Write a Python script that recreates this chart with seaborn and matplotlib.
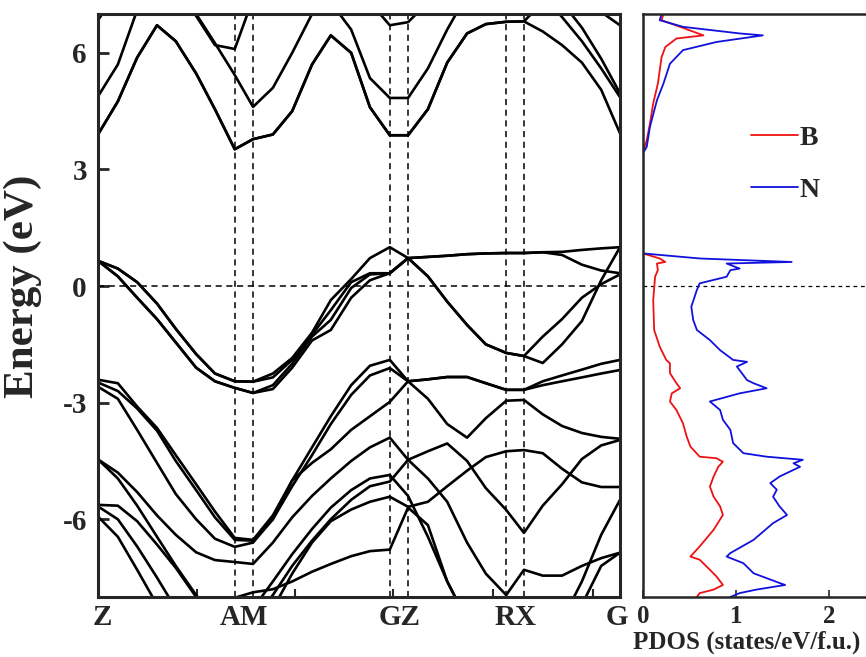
import numpy as np
import pandas as pd
import matplotlib
matplotlib.use("Agg")
import matplotlib.pyplot as plt
import seaborn as sns

# k-path positions (fraction of total path length) and high-symmetry points
K = [0.0, 0.038, 0.075, 0.113, 0.149, 0.188, 0.224, 0.262, 0.297, 0.335, 0.372, 0.41, 0.446, 0.485,
     0.521, 0.559, 0.594, 0.632, 0.669, 0.707, 0.743, 0.782, 0.816, 0.852, 0.889, 0.927, 0.964, 1.0]
KPOINTS = [0.0, 0.262, 0.297, 0.559, 0.594, 0.782, 0.816, 1.0]
KLABEL_POS = [0.008, 0.28, 0.577, 0.799, 0.994]
KLABELS = ["Z", "AM", "GZ", "RX", "G"]
KMINOR = [0.19, 0.377, 0.565, 0.757, 0.948]

# conduction bands (eV)
C1 = [3.9, 4.75, 5.88, 6.71, 6.3, 5.47, 4.55, 3.52, 3.78, 3.9, 4.5, 5.7, 6.45, 6.0, 4.6, 3.88,
      3.88, 4.55, 5.75, 6.5, 6.74, 6.8, 6.81, 6.55, 6.2, 5.75, 5.05, 3.93]
C2 = [4.88, 5.7, 7.1, 7.8, 7.8, 7.0, 6.25, 5.43, 4.61, 5.1, 6.0, 7.0, 7.3, 6.6, 5.35, 4.84,
      4.84, 5.6, 6.6, 7.5, 7.8, 7.8, 7.8, 7.5, 6.92, 6.3, 5.6, 4.86]
C3 = [6.84, 7.6, 7.8, 7.8, 7.7, 6.95, 6.2, 6.1, 7.4, 7.8, 7.8, 7.8, 7.8, 7.8, 7.3, 6.71,
      6.79, 7.3, 7.8, 7.8, 7.8, 7.8, 7.8, 7.8, 7.8, 7.5, 7.05, 6.71]
C4 = [3.9, 4.75, 5.88, 6.71, 6.3, 5.47, 4.55, 3.52, 3.78, 3.9, 4.5, 5.7, 6.45, 6.0, 4.6, 3.88,
      3.88, 4.55, 5.75, 6.5, 6.74, 6.8, 6.81, 7.3, 7.8, 7.8, 7.8, 7.8]
C5 = [7.8, 7.8, 7.8, 7.8, 7.8, 7.8, 7.8, 7.8, 7.8, 7.8, 7.8, 7.8, 7.8, 7.8, 7.8, 7.8,
      7.8, 7.8, 7.8, 7.8, 7.8, 7.8, 7.8, 7.8, 7.3, 6.65, 5.85, 4.96]

# upper valence bands
VA = [0.65, 0.45, 0.1, -0.45, -1.1, -1.75, -2.25, -2.45, -2.46, -2.25, -1.85, -1.2, -0.36, 0.18,
      0.72, 1.0, 0.72, 0.75, 0.78, 0.82, 0.84, 0.85, 0.85, 0.87, 0.88, 0.93, 0.97, 1.0]
VC = [0.65, 0.45, 0.1, -0.45, -1.1, -1.75, -2.25, -2.45, -2.46, -2.35, -1.9, -1.25, -0.62, 0.1,
      0.33, 0.33, 0.72, 0.75, 0.78, 0.82, 0.84, 0.85, 0.85, 0.87, 0.8, 0.55, 0.4, 0.33]
VD = [0.65, 0.25, -0.3, -0.85, -1.45, -2.1, -2.45, -2.62, -2.75, -2.55, -2.0, -1.3, -0.87, -0.05,
      0.3, 0.33, 0.72, 0.25, -0.4, -1.0, -1.5, -1.72, -1.8, -1.98, -1.5, -0.9, 0.15, 1.0]
VB = [0.65, 0.25, -0.3, -0.85, -1.45, -2.1, -2.45, -2.62, -2.75, -2.65, -2.1, -1.4, -1.13, -0.3,
      0.15, 0.33, 0.72, 0.25, -0.4, -1.0, -1.5, -1.72, -1.8, -1.3, -0.85, -0.3, 0.05, 0.3]

# lower valence bands
L1 = [-2.41, -2.5, -3.1, -3.65, -4.35, -5.1, -5.8, -6.48, -6.53, -5.9, -5.0, -4.15, -3.35, -2.55,
      -2.05, -1.9, -2.45, -2.4, -2.34, -2.34, -2.5, -2.67, -2.67, -2.45, -2.3, -2.15, -2.0, -1.9]
L2 = [-2.48, -2.7, -3.15, -3.72, -4.5, -5.25, -5.95, -6.53, -6.55, -6.0, -5.15, -4.35, -3.55, -2.8,
      -2.3, -2.11, -2.45, -2.9, -3.55, -3.9, -3.4, -2.95, -2.93, -3.3, -3.6, -3.78, -3.88, -3.93]
L3 = [-2.59, -2.9, -3.7, -4.55, -5.35, -6.0, -6.5, -6.71, -6.6, -6.0, -5.0, -4.55, -4.2, -3.7,
      -3.35, -2.98, -2.45, -2.4, -2.34, -2.34, -2.5, -2.67, -2.67, -2.55, -2.45, -2.35, -2.25, -2.16]
L4 = [-4.46, -4.8, -5.3, -5.9, -6.4, -6.85, -7.05, -7.1, -7.15, -6.6, -5.95, -5.4, -4.95, -4.5,
      -4.15, -3.9, -4.47, -4.25, -4.05, -4.5, -5.2, -5.76, -6.35, -5.65, -5.1, -4.45, -4.1, -3.96]
L5 = [-4.46, -4.95, -5.65, -6.45, -7.2, -7.95, -8.6, -9.0, -8.3, -7.6, -6.9, -6.25, -5.7, -5.25,
      -4.95, -4.86, -5.4, -6.45, -7.6, -8.6, -9.2, -9.3, -9.3, -9.2, -8.6, -7.6, -6.4, -5.5]
L6 = [-5.63, -5.65, -6.05, -6.65, -7.25, -8.0, -8.7, -9.2, -8.6, -7.95, -7.2, -6.55, -6.0, -5.5,
      -5.15, -5.03, -4.47, -4.95, -5.55, -6.6, -7.4, -7.95, -7.3, -7.45, -7.45, -7.2, -7.0, -6.86]
L7 = [-5.67, -6.0, -6.7, -7.5, -8.3, -9.0, -9.3, -9.3, -9.0, -8.3, -7.4, -6.6, -6.05, -5.75,
      -5.55, -5.42, -5.68, -5.55, -5.15, -4.75, -4.4, -4.25, -4.22, -4.3, -4.7, -5.05, -5.17, -5.17]
L8 = [-5.93, -6.45, -7.3, -8.2, -9.0, -9.4, -8.8, -8.02, -7.88, -7.8, -7.6, -7.35, -7.15, -6.95,
      -6.82, -6.78, -5.7, -6.15, -7.6, -8.6, -9.3, -9.5, -9.5, -9.5, -9.2, -8.2, -7.2, -6.86]

BANDS = {"C1": C1, "C2": C2, "C3": C3, "C4": C4, "C5": C5,
         "VA": VA, "VB": VB, "VC": VC, "VD": VD,
         "L1": L1, "L2": L2, "L3": L3, "L4": L4, "L5": L5, "L6": L6, "L7": L7, "L8": L8}

# projected DOS (states/eV/f.u.)
N_COND_E = [7.0, 6.84, 6.67, 6.5, 6.45, 6.28, 6.07, 5.72, 5.21, 4.78, 4.1, 3.58, 3.42]
N_COND_DOS = [0.2, 0.18, 0.43, 1.04, 1.29, 0.79, 0.43, 0.29, 0.22, 0.15, 0.075, 0.04, 0.0]
N_VAL_E = [0.84, 0.71, 0.62, 0.58, 0.45, 0.41, 0.24, 0.07, -0.1, -0.53, -0.87, -1.13, -1.39, -1.65,
           -1.9, -1.95, -2.07, -2.42, -2.5, -2.63, -2.76, -2.97, -3.19, -3.44, -3.7, -4.04, -4.3,
           -4.39, -4.47, -4.56, -4.65, -4.9, -5.07, -5.24, -5.42, -5.67, -5.89, -6.1, -6.53, -6.87,
           -6.96, -7.13, -7.39, -7.64, -7.69, -7.81, -7.9, -8.0]
N_VAL_DOS = [0.0, 0.61, 1.6, 0.9, 1.04, 0.94, 0.9, 0.61, 0.58, 0.52, 0.54, 0.58, 0.72, 0.83,
             0.97, 1.12, 1.01, 1.12, 1.19, 1.33, 1.04, 0.72, 0.83, 0.86, 0.94, 0.97, 1.08,
             1.33, 1.72, 1.62, 1.69, 1.47, 1.37, 1.44, 1.4, 1.47, 1.55, 1.4, 1.19, 0.94,
             0.9, 1.08, 1.19, 1.47, 1.53, 1.22, 1.04, 0.94]
B_COND_E = [7.0, 6.84, 6.67, 6.45, 6.37, 6.15, 5.89, 5.21, 4.7, 4.18, 3.75, 3.45]
B_COND_DOS = [0.22, 0.2, 0.4, 0.65, 0.36, 0.24, 0.2, 0.16, 0.11, 0.075, 0.04, 0.0]
B_VAL_E = [0.84, 0.71, 0.62, 0.58, 0.41, 0.24, -0.36, -1.13, -1.56, -1.9, -1.99, -2.24, -2.5,
           -2.63, -2.76, -2.97, -3.19, -3.53, -3.87, -4.13, -4.39, -4.43, -4.52, -4.65, -4.9,
           -5.16, -5.42, -5.67, -5.89, -6.27, -6.7, -6.96, -7.04, -7.3, -7.47, -7.69, -7.81,
           -7.9, -8.0]
B_VAL_DOS = [0.0, 0.18, 0.24, 0.15, 0.16, 0.13, 0.11, 0.12, 0.18, 0.25, 0.29, 0.29, 0.36,
             0.4, 0.31, 0.29, 0.36, 0.43, 0.47, 0.51, 0.61, 0.79, 0.86, 0.81, 0.76,
             0.72, 0.76, 0.83, 0.86, 0.76, 0.61, 0.51, 0.61, 0.72, 0.79, 0.86, 0.76,
             0.61, 0.58]

# long-form tables
band_df = pd.concat([pd.DataFrame({"k": K, "E": v, "band": n}) for n, v in BANDS.items()])
dos_df = pd.concat([
    pd.DataFrame({"dos": B_COND_DOS, "E": B_COND_E, "species": "B", "part": "Bc"}),
    pd.DataFrame({"dos": B_VAL_DOS, "E": B_VAL_E, "species": "B", "part": "Bv"}),
    pd.DataFrame({"dos": N_COND_DOS, "E": N_COND_E, "species": "N", "part": "Nc"}),
    pd.DataFrame({"dos": N_VAL_DOS, "E": N_VAL_E, "species": "N", "part": "Nv"}),
])

sns.set_theme(style="ticks")
plt.rcParams["font.family"] = ["Liberation Serif", "DejaVu Serif"]
plt.rcParams["font.weight"] = "bold"
plt.rcParams["axes.labelweight"] = "bold"

fig = plt.figure(figsize=(8.66, 6.57), dpi=100)
W, H = 866, 657
ax = fig.add_axes([98 / W, 1 - 597 / H, 522 / W, 583 / H])
ax2 = fig.add_axes([643 / W, 1 - 597 / H, 223 / W, 583 / H])

# band structure
sns.lineplot(data=band_df, x="k", y="E", units="band", estimator=None, sort=False,
             color="black", lw=1.9, ax=ax, legend=False)
for kp in KPOINTS[1:-1]:
    ax.axvline(kp, color="black", ls=(0, (4, 3)), lw=1.1, zorder=1)
ax.axhline(0, color="black", ls=(0, (4, 3)), lw=1.1, zorder=1)
ax.set_xlim(0, 1)
ax.set_ylim(-8, 7)
ax.set_yticks([-6, -3, 0, 3, 6])
ax.set_yticklabels(["-6", "-3", "0", "3", "6"], fontsize=21, fontweight="bold")
ax.set_xticks(KLABEL_POS)
ax.set_xticklabels(KLABELS, fontsize=21, fontweight="bold")
ax.set_xticks(KMINOR, minor=True)
ax.tick_params(axis="x", which="major", length=0, pad=5)
ax.tick_params(axis="x", which="minor", direction="in", length=6, width=1.5)
ax.tick_params(axis="y", direction="in", length=8, width=2, pad=8)
ax.set_xlabel("")
ax.set_ylabel("Energy (eV)", fontsize=31, fontweight="bold")
ax.yaxis.set_label_coords(-0.108, 0.533)
for s in ax.spines.values():
    s.set_linewidth(2.2)

# PDOS
sns.lineplot(data=dos_df, x="dos", y="E", hue="species", units="part", estimator=None,
             sort=False, palette={"B": "#ee1111", "N": "#1111dd"}, lw=1.3, ax=ax2)
ax2.axhline(0, color="black", ls=(0, (3, 3)), lw=0.9, zorder=1)
ax2.set_xlim(0, 2.4)
ax2.set_ylim(-8, 7)
ax2.set_yticks([])
ax2.set_xticks([0, 1, 2])
ax2.set_xticklabels(["0", "1", "2"], fontsize=18, fontweight="bold")
ax2.tick_params(axis="x", direction="in", length=5, width=1.2, pad=6)
ax2.set_ylabel("")
ax2.set_xlabel("PDOS (states/eV/f.u.)", fontsize=18, fontweight="bold")
ax2.xaxis.set_label_coords(0.466, -0.058)
ax2.spines["right"].set_visible(False)
for s in ["left", "top", "bottom"]:
    ax2.spines[s].set_linewidth(1.8)
leg = ax2.legend(loc="upper left", bbox_to_anchor=(0.37, 0.852), frameon=False,
                 handlelength=1.7, handletextpad=0.05, labelspacing=0.95,
                 prop={"size": 20, "weight": "bold"})

fig.savefig("out.png", dpi=100)
